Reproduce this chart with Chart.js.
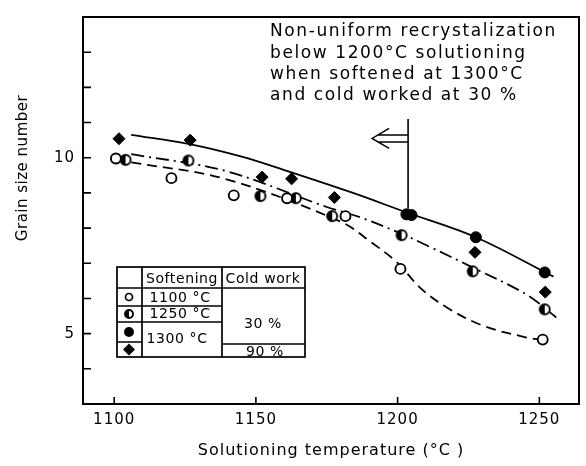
<!DOCTYPE html>
<html><head><meta charset="utf-8">
<script src="https://cdn.jsdelivr.net/npm/chart.js@4.4.1/dist/chart.umd.min.js"></script>
<style>html,body{margin:0;padding:0;background:#fff;}</style>
</head><body>
<canvas id="c" width="586" height="466"></canvas>
<script>
// ---- axis ticks ----
const xTickValues = [1100, 1150, 1200, 1250];
const yLabelValues = [5, 10];
const xTitle = 'Solutioning temperature (°C )';
const yTitle = 'Grain size number';

// ---- measured points (temperature °C, grain size number) ----
const open1100T = [1100.6, 1120.2, 1142.2, 1161, 1181.6, 1201, 1251.2];
const open1100G = [9.98, 9.42, 8.93, 8.85, 8.34, 6.84, 4.83];
const half1250T = [1104, 1126.2, 1151.6, 1164.1, 1176.9, 1201.4, 1226.5, 1251.9];
const half1250G = [9.94, 9.92, 8.91, 8.85, 8.34, 7.8, 6.77, 5.69];
const full1300T = [1203.1, 1204.9, 1227.6, 1251.9];
const full1300G = [8.39, 8.37, 7.74, 6.74];
const dia90T = [1101.7, 1126.8, 1152.2, 1162.6, 1177.7, 1227.3, 1252.1];
const dia90G = [10.54, 10.5, 9.45, 9.4, 8.87, 7.31, 6.18];

// ---- fitted curves ----
const solidT = [1106, 1127, 1145, 1160, 1183.5, 1203, 1227.6, 1255];
const solidG = [10.65, 10.38, 10.03, 9.65, 9.02, 8.45, 7.74, 6.62];
const dashDotT = [1106, 1139, 1175, 1187, 1201, 1210, 1227, 1245.5, 1256];
const dashDotG = [10.1, 9.63, 8.6, 8.3, 7.85, 7.52, 6.86, 6.11, 5.46];
const dashT = [1106, 1139, 1180, 1190.5, 1200, 1208, 1217.4, 1230.3, 1245.5, 1250];
const dashG = [9.87, 9.4, 8.18, 7.61, 7.01, 6.3, 5.74, 5.22, 4.89, 4.83];

// ---- legend table / annotation text ----
const tableHeader = ['Softening', 'Cold work'];
const softening = ['1100 °C', '1250 °C', '1300 °C'];
const coldWork = ['30 %', '90 %'];
const noteLines = ['Non-uniform recrystalization', 'below 1200°C solutioning', 'when softened at 1300°C', 'and cold worked at 30 %'];
const noteArrowT = 1203.7;
const noteArrowG = [11.1, 8.55];
const noteHollowArrowT = [1191, 1203.7];
const noteHollowArrowG = 10.55;

const FONT = "'DejaVu Sans', sans-serif";
Chart.defaults.font.family = FONT;
Chart.defaults.color = '#000';

const zip = (a, b) => a.map((v, i) => ({x: v, y: b[i]}));

function halfCircle(r) {
  const s = Math.ceil(r * 2 + 4);
  const cv = document.createElement('canvas');
  cv.width = s; cv.height = s;
  const c = cv.getContext('2d'); const m = s / 2;
  c.fillStyle = '#fff'; c.beginPath(); c.arc(m, m, r, 0, Math.PI * 2); c.fill();
  c.fillStyle = '#000'; c.beginPath(); c.arc(m, m, r, Math.PI / 2, Math.PI * 1.5); c.closePath(); c.fill();
  c.lineWidth = 1.9; c.strokeStyle = '#000'; c.beginPath(); c.arc(m, m, r, 0, Math.PI * 2); c.stroke();
  return cv;
}
const halfImg = halfCircle(5);

const lineDs = (t, g, dash) => ({
  type: 'line', data: zip(t, g), borderColor: '#000', borderWidth: 1.8,
  borderDash: dash, pointRadius: 0, tension: 0.35, fill: false, order: 2
});

const framePlugin = {
  id: 'frame',
  beforeDraw(chart) { chart.ctx.letterSpacing = '1px'; },
  afterDraw(chart) {
    const {ctx, chartArea: a, scales: {x, y}} = chart;
    ctx.save();
    ctx.strokeStyle = '#000';
    ctx.lineWidth = 2;
    ctx.strokeRect(a.left, a.top, a.right - a.left, a.bottom - a.top);
    ctx.lineWidth = 1.6;
    ctx.beginPath();
    y.ticks.forEach(t => {
      const p = y.getPixelForValue(t.value);
      if (p > a.top + 2 && p < a.bottom - 2) { ctx.moveTo(a.left, p); ctx.lineTo(a.left + 8, p); }
    });
    x.ticks.forEach(t => {
      const p = x.getPixelForValue(t.value);
      ctx.moveTo(p, a.bottom); ctx.lineTo(p, a.bottom - 7);
    });
    ctx.stroke();

    // y title
    ctx.font = '15px ' + FONT;
    ctx.letterSpacing = '0.5px';
    ctx.fillStyle = '#000';
    ctx.translate(23, 168);
    ctx.rotate(-Math.PI / 2);
    ctx.textAlign = 'center'; ctx.textBaseline = 'middle';
    ctx.fillText(yTitle, 0, 0);
    ctx.restore();

    // annotation text
    ctx.save();
    ctx.fillStyle = '#000';
    ctx.font = '17px ' + FONT;
    ctx.letterSpacing = '1.6px';
    ctx.textAlign = 'left'; ctx.textBaseline = 'middle';
    noteLines.forEach((s, i) => ctx.fillText(s, 270, 32 + i * 21.3));
    // vertical arrow
    const ax = x.getPixelForValue(noteArrowT);
    ctx.strokeStyle = '#000'; ctx.lineWidth = 1.6;
    ctx.beginPath();
    ctx.moveTo(ax, y.getPixelForValue(noteArrowG[0]));
    ctx.lineTo(ax, y.getPixelForValue(noteArrowG[1]));
    ctx.stroke();
    // hollow arrow
    const tip = x.getPixelForValue(noteHollowArrowT[0]);
    const tail = x.getPixelForValue(noteHollowArrowT[1]);
    const hy = y.getPixelForValue(noteHollowArrowG);
    ctx.lineWidth = 1.5;
    ctx.beginPath();
    ctx.moveTo(tip + 17, hy - 10); ctx.lineTo(tip, hy); ctx.lineTo(tip + 17, hy + 10);
    ctx.moveTo(tip + 6, hy - 3.5); ctx.lineTo(tail, hy - 3.5);
    ctx.moveTo(tip + 6, hy + 3.5); ctx.lineTo(tail, hy + 3.5);
    ctx.stroke();
    ctx.restore();

    // legend table
    ctx.save();
    const L = 117, R = 305, T = 267, B = 357, c1 = 142, c2 = 222;
    ctx.fillStyle = '#fff';
    ctx.fillRect(L, T, R - L, B - T);
    ctx.strokeStyle = '#000'; ctx.lineWidth = 1.7;
    ctx.strokeRect(L, T, R - L, B - T);
    ctx.beginPath();
    ctx.moveTo(c1, T); ctx.lineTo(c1, B);
    ctx.moveTo(c2, T); ctx.lineTo(c2, B);
    ctx.moveTo(L, 288); ctx.lineTo(R, 288);
    ctx.moveTo(L, 306); ctx.lineTo(c2, 306);
    ctx.moveTo(L, 322); ctx.lineTo(c2, 322);
    ctx.moveTo(L, 342); ctx.lineTo(c1, 342);
    ctx.moveTo(c2, 344); ctx.lineTo(R, 344);
    ctx.stroke();
    ctx.fillStyle = '#000';
    ctx.font = '14px ' + FONT;
    ctx.letterSpacing = '0.6px';
    ctx.textAlign = 'center'; ctx.textBaseline = 'middle';
    ctx.fillText(tableHeader[0], 182, 279);
    ctx.fillText(tableHeader[1], 263, 279);
    ctx.fillText(softening[0], 180, 298);
    ctx.fillText(softening[1], 180, 314);
    ctx.fillText(softening[2], 177, 339);
    ctx.fillText(coldWork[0], 263, 324);
    ctx.fillText(coldWork[1], 265, 352);
    // symbols
    const sx = 129;
    ctx.lineWidth = 1.7;
    ctx.beginPath(); ctx.arc(sx, 297, 3.5, 0, Math.PI * 2); ctx.stroke();
    ctx.drawImage(halfCircle(4), sx - 6, 314 - 6);
    ctx.beginPath(); ctx.arc(sx, 332, 5, 0, Math.PI * 2); ctx.fill();
    ctx.beginPath(); ctx.moveTo(sx, 343.5); ctx.lineTo(sx + 6, 349.5); ctx.lineTo(sx, 355.5); ctx.lineTo(sx - 6, 349.5); ctx.closePath(); ctx.fill();
    ctx.restore();
  }
};

new Chart(document.getElementById('c'), {
  type: 'scatter',
  data: {
    datasets: [
      lineDs(solidT, solidG, []),
      lineDs(dashDotT, dashDotG, [13, 5, 2, 5]),
      lineDs(dashT, dashG, [10, 6]),
      {data: zip(open1100T, open1100G), pointStyle: 'circle', pointRadius: 5, backgroundColor: '#fff', borderColor: '#000', borderWidth: 1.9, order: 1},
      {data: zip(half1250T, half1250G), pointStyle: halfImg, pointRadius: 5, order: 1},
      {data: zip(full1300T, full1300G), pointStyle: 'circle', pointRadius: 5.5, backgroundColor: '#000', borderColor: '#000', borderWidth: 1, order: 1},
      {data: zip(dia90T, dia90G), pointStyle: 'rectRot', pointRadius: 6, backgroundColor: '#000', borderColor: '#000', borderWidth: 1, order: 1}
    ]
  },
  options: {
    responsive: false, devicePixelRatio: 1, animation: false,
    layout: {padding: {top: 10, right: 4, left: 0, bottom: 0}},
    plugins: {legend: {display: false}, tooltip: {enabled: false}},
    scales: {
      x: {
        type: 'linear', min: 1089, max: 1264,
        afterBuildTicks: s => { s.ticks = xTickValues.map(v => ({value: v})); },
        afterFit: s => { s.height = 62; },
        grid: {display: false, drawTicks: false}, border: {display: false},
        ticks: {font: {size: 15}, padding: 7, maxRotation: 0, callback: v => String(v)},
        title: {display: true, text: xTitle, font: {size: 16}, padding: {top: 0, bottom: 6}}
      },
      y: {
        type: 'linear', min: 3, max: 14,
        afterFit: s => { s.width = 83; },
        grid: {display: false, drawTicks: false}, border: {display: false},
        ticks: {stepSize: 1, font: {size: 15}, padding: 8, autoSkip: false,
          callback: v => yLabelValues.includes(v) ? String(v) : ''}
      }
    }
  },
  plugins: [framePlugin]
});
</script>
</body></html>
